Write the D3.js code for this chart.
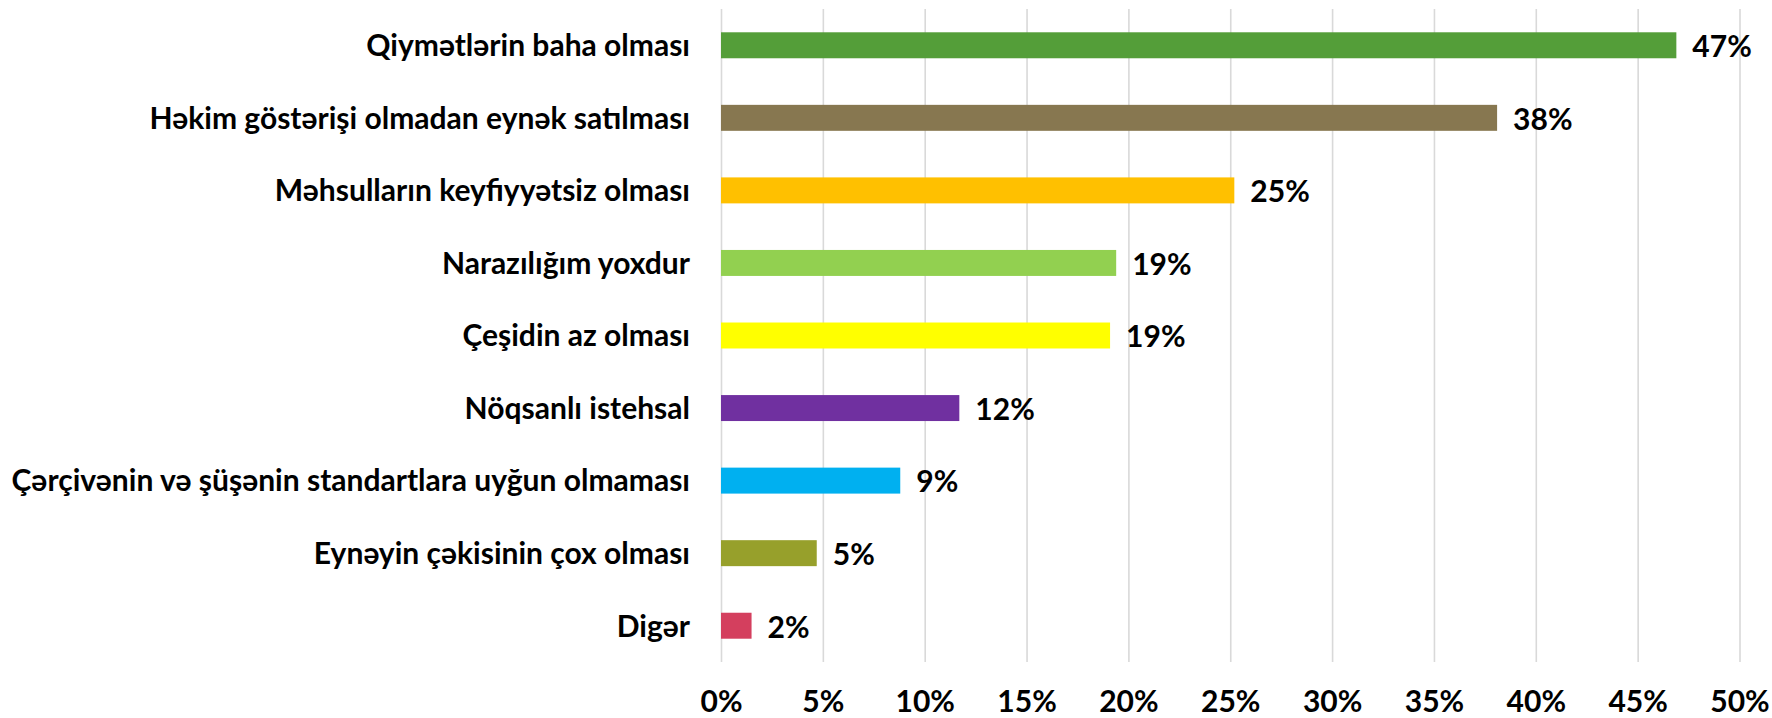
<!DOCTYPE html>
<html>
<head>
<meta charset="utf-8">
<script src="https://cdn.jsdelivr.net/npm/d3@7/dist/d3.min.js"></script>
<style>
  html, body { margin: 0; padding: 0; background: #ffffff; }
  svg { display: block; }
  text { font-family: Lato, "Open Sans", sans-serif; font-weight: 700; fill: #000000; }
</style>
</head>
<body>
<svg id="chart" width="1772" height="718"></svg>
<script>
const categories = [
  "Qiymətlərin baha olması",
  "Həkim göstərişi olmadan eynək satılması",
  "Məhsulların keyfiyyətsiz olması",
  "Narazılığım yoxdur",
  "Çeşidin az olması",
  "Nöqsanlı istehsal",
  "Çərçivənin və şüşənin standartlara uyğun olmaması",
  "Eynəyin çəkisinin çox olması",
  "Digər"
];
const values = [46.9, 38.1, 25.2, 19.4, 19.1, 11.7, 8.8, 4.7, 1.5];
const valueLabels = ["47%", "38%", "25%", "19%", "19%", "12%", "9%", "5%", "2%"];
const barColors = ["#549E39", "#877750", "#FFC000", "#92D050", "#FFFF00", "#7030A0", "#00B0F0", "#97A02B", "#D43F5E"];
const tickValues = [0, 5, 10, 15, 20, 25, 30, 35, 40, 45, 50];
const tickLabels = ["0%", "5%", "10%", "15%", "20%", "25%", "30%", "35%", "40%", "45%", "50%"];

const svg = d3.select("#chart");
const plotLeft = 721, plotRight = 1739.5, plotTop = 9, plotBottom = 662;

const x = d3.scaleLinear().domain([0, 50]).range([plotLeft, plotRight]);
const y = d3.scaleBand().domain(categories).range([plotTop, plotBottom])
  .paddingInner(0.642).paddingOuter(0.321);

// Fit font size so the longest category label spans ~679px
const probe = svg.append("text").style("font-size", "100px").text(categories[6]);
const w100 = probe.node().getComputedTextLength();
probe.remove();
const fs = Math.min(32, Math.max(20, 100 * 679 / w100));
const capOff = fs * 0.36;

// gridlines via axis
const gridAxis = d3.axisBottom(x).tickValues(tickValues).tickSize(-(plotBottom - plotTop)).tickFormat("");
const g = svg.append("g").attr("transform", `translate(0,${plotBottom})`).call(gridAxis);
g.select(".domain").remove();
g.selectAll(".tick line").attr("stroke", "#D9D9D9").attr("stroke-width", 1.6);

// tick labels
const labAxis = d3.axisBottom(x).tickValues(tickValues).tickSize(0)
  .tickFormat((d, i) => tickLabels[i]);
const gl = svg.append("g").call(labAxis);
gl.select(".domain").remove();
gl.selectAll(".tick text")
  .attr("y", 712).attr("dy", 0)
  .style("font-size", fs + "px")
  .style("font-family", "Lato, sans-serif")
  .style("font-weight", 700)
  .attr("fill", "#000");

// bars
svg.append("g").selectAll("rect").data(categories).join("rect")
  .attr("x", x(0))
  .attr("y", d => y(d))
  .attr("width", (d, i) => x(values[i]) - x(0))
  .attr("height", y.bandwidth())
  .attr("fill", (d, i) => barColors[i]);

// category labels
svg.append("g").selectAll("text").data(categories).join("text")
  .attr("x", 690)
  .attr("y", d => y(d) + y.bandwidth() / 2 + capOff)
  .attr("text-anchor", "end")
  .style("font-size", fs + "px")
  .text(d => d);

// value labels
svg.append("g").selectAll("text").data(categories).join("text")
  .attr("x", (d, i) => x(values[i]) + 16)
  .attr("y", d => y(d) + y.bandwidth() / 2 + capOff + 1)
  .style("font-size", fs + "px")
  .text((d, i) => valueLabels[i]);
</script>
</body>
</html>
